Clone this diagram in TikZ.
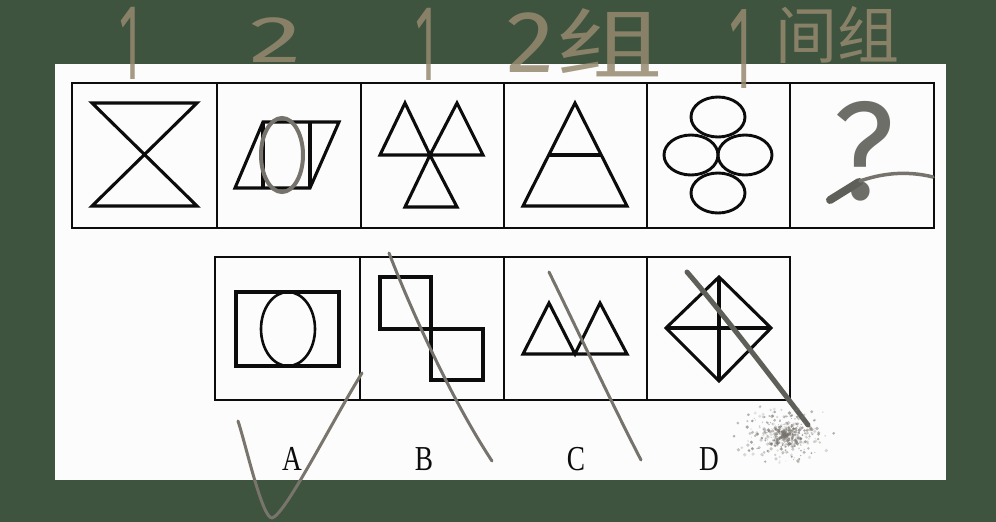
\documentclass[tikz,border=0pt]{standalone}
\usepackage{fontspec}
\newfontfamily\chalkfont{Fira Sans}
\newfontfamily\cjkfont{Noto Sans CJK SC}
\newfontfamily\labfont{Liberation Serif}
\definecolor{board}{RGB}{62,84,62}
\definecolor{paper}{RGB}{252,252,252}
\definecolor{chalk}{RGB}{150,138,112}
\definecolor{chalkgrey}{RGB}{118,115,108}
\definecolor{chalkdark}{RGB}{95,95,90}
\definecolor{ink}{RGB}{12,12,12}
\begin{document}
\begin{tikzpicture}[x=1pt,y=-1pt,
  fig/.style={draw=ink,line width=3.1pt,line join=miter},
  frame/.style={draw=ink,line width=2.7pt},
  chalkline/.style={draw=chalkgrey,line width=3pt,line cap=round,line join=round},
  note/.style={text=chalk,text opacity=0.85,inner sep=0pt,anchor=base},
  lab/.style={font=\labfont\fontsize{35}{35}\selectfont,xscale=0.78,inner sep=0pt,anchor=base,text=ink}]
\useasboundingbox (0,0) rectangle (996,522);
\fill[board] (0,0) rectangle (996,522);
\fill[paper] (55,64) rectangle (946,480);
% ---------- top row ----------
\draw[frame] (72,83) rectangle (934,228);
\foreach \x in {217,361,504,647,790} \draw[frame] (\x,83) -- (\x,228);
% cell 1: hourglass
\draw[fig] (92,103) -- (197,103) -- (92,206) -- (197,206) -- cycle;
% cell 2: parallelogram split
\draw[fig] (263,122) -- (339,122) -- (310,188) -- (235,188) -- cycle;
\draw[fig] (263,122) -- (263,188);
\draw[fig] (310,122) -- (310,188);
\draw[draw=chalkgrey,line width=4pt] (282,155) ellipse [x radius=21, y radius=37];
% cell 3: three triangles
\draw[fig] (430,155) -- (405,103) -- (380,155) -- cycle;
\draw[fig] (430,155) -- (457,103) -- (483,155) -- cycle;
\draw[fig] (430,155) -- (405,207) -- (457,207) -- cycle;
% cell 4: triangle with line
\draw[fig] (575,103) -- (627,206) -- (523,206) -- cycle;
\draw[fig] (549,155) -- (601,155);
% cell 5: four ellipses
\foreach \p in {(718,117),(718,193),(691,155),(745,155)}
  \draw[draw=ink,line width=2.9pt] \p ellipse [x radius=27, y radius=20];
% cell 6: question mark
\node[text=chalkdark,text opacity=0.9,inner sep=0pt,anchor=base,font=\chalkfont\fontsize{140}{140}\selectfont,xscale=0.95] (qm) at (864,199) {?};
\draw[draw=chalkdark,line width=8pt,line cap=round] (830,200) -- (859,182);
\draw[draw=chalkgrey,line width=3.5pt,line cap=round] (860,181) .. controls (880,174) and (905,170) .. (933,177);
% ---------- bottom row ----------
\draw[frame] (215,257) rectangle (790,400);
\foreach \x in {360,504,647} \draw[frame] (\x,257) -- (\x,400);
% A
\draw[fig] (236,292) rectangle (339,366);
\draw[draw=ink,line width=2.6pt] (288,329) ellipse [x radius=27, y radius=37];
% B
\draw[fig] (380,277) rectangle (431,329);
\draw[fig] (431,329) rectangle (483,380);
% C
\draw[fig] (523,354) -- (549,303) -- (575,354) -- (600,303) -- (627,354) -- cycle;
% D
\draw[fig] (719,277) -- (771,328) -- (719,381) -- (666,328) -- cycle;
\draw[fig] (719,277) -- (719,381);
\draw[fig] (666,328) -- (771,328);
% labels
\node[lab] (la) at (292,470) {A};
\node[lab] (lb) at (424,470) {B};
\node[lab] (lc) at (576,470) {C};
\node[lab] (ld) at (709,470) {D};
% ---------- chalk marks on answers ----------
\draw[chalkline,draw=chalkgrey!90!chalk] (238,421) .. controls (246,445) and (262,518) .. (272,518) .. controls (285,515) and (330,425) .. (362,373);
\draw[chalkline] (389,253) .. controls (415,320) and (455,405) .. (492,461);
\draw[chalkline] (549,272) .. controls (575,325) and (615,410) .. (641,460);
\draw[chalkline,draw=chalkdark,line width=5pt] (687,272) .. controls (720,310) and (770,375) .. (808,425);
\pgfmathsetseed{42}
\foreach \i in {1,...,520}{
  \pgfmathsetmacro\ang{360*rnd}
  \pgfmathsetmacro\rad{rnd*(0.25+0.75*rnd)}
  \pgfmathsetmacro\sz{0.5+1.4*rnd}
  \pgfmathsetmacro\op{0.15+0.5*rnd}
  \fill[chalkgrey,opacity=\op] ({785+58*\rad*cos(\ang)},{435+36*\rad*sin(\ang)}) circle (\sz);
}
% ---------- top handwriting ----------
\node[note,font=\chalkfont\fontsize{108}{108}\selectfont,xscale=0.45] (t1) at (130,79) {1};
\node[note,font=\chalkfont\fontsize{66}{66}\selectfont,xscale=1.6] (t2) at (276,62) {2};
\node[note,font=\chalkfont\fontsize{108}{108}\selectfont,xscale=0.45] (t3) at (426,80) {1};
\node[note,font=\chalkfont\fontsize{88}{88}\selectfont,xscale=1.1] (t4) at (530,72) {2};
\node[note,font=\cjkfont\fontsize{76}{76}\selectfont,xscale=1.4] (t5) at (610,72) {组};
\node[note,font=\chalkfont\fontsize{118}{118}\selectfont,xscale=0.45] (t6) at (741,88) {1};
\node[note,font=\cjkfont\fontsize{62}{62}\selectfont] (t7) at (837,58) {间组};
\end{tikzpicture}
\end{document}
